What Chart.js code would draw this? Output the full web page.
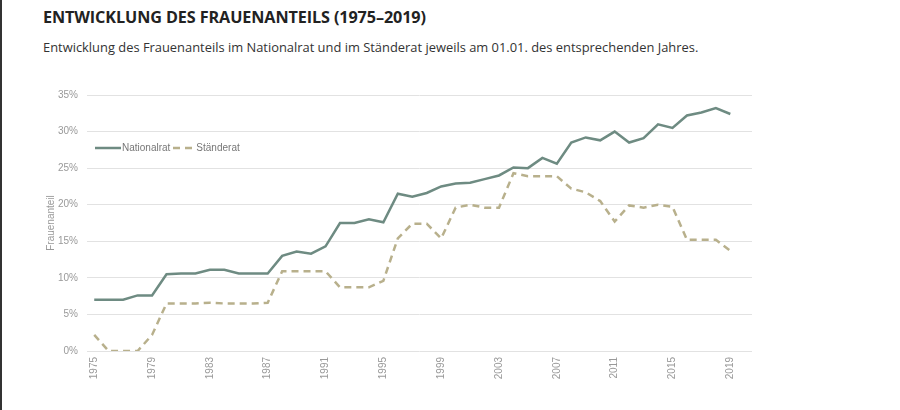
<!DOCTYPE html>
<html>
<head>
<meta charset="utf-8">
<script src="https://cdn.jsdelivr.net/npm/chart.js@4"></script>
<style>
  html, body { margin: 0; padding: 0; background: #fff; }
  body { width: 900px; height: 410px; position: relative; overflow: hidden; border-left: 2px solid #333; box-sizing: border-box; }
  h1 { position: absolute; left: 41px; top: 6px; margin: 0; font: 700 16.2px "Open Sans", sans-serif; color: #222; letter-spacing: -0.1px; }
  p.sub { position: absolute; left: 41px; top: 38px; margin: 0; font: 400 12.9px "Open Sans", sans-serif; color: #333; }
  #wrap { position: absolute; left: -2px; top: 80px; width: 900px; height: 330px; }
  #legend { position: absolute; left: 93px; top: 142px; font: 10px "Liberation Sans", Arial, sans-serif; color: #777; display: flex; align-items: center; }
  #legend svg { margin-right: 1px; }
</style>
</head>
<body>
<h1>ENTWICKLUNG DES FRAUENANTEILS (1975–2019)</h1>
<p class="sub">Entwicklung des Frauenanteils im Nationalrat und im Ständerat jeweils am 01.01. des entsprechenden Jahres.</p>
<div id="wrap"><canvas id="chart"></canvas></div>
<div id="legend">
  <svg width="26" height="4"><line x1="0" y1="2" x2="26" y2="2" stroke="#6e8b82" stroke-width="2.5"/></svg>
  <span>Nationalrat</span>
  <svg width="20" height="4" style="margin-left:3px"><line x1="0" y1="2" x2="20" y2="2" stroke="#b8b08c" stroke-width="2.5" stroke-dasharray="7,5"/></svg>
  <span style="margin-left:2px">Ständerat</span>
</div>
<script>
var years = [];
for (var y = 1975; y <= 2020; y++) years.push(String(y));

var nationalrat = [7.0, 7.0, 7.0, 7.6, 7.6, 10.5, 10.6, 10.6, 11.1, 11.1,
                   10.6, 10.6, 10.6, 13.0, 13.6, 13.3, 14.3, 17.5, 17.5, 18.0,
                   17.6, 21.5, 21.1, 21.6, 22.5, 22.9, 23.0, 23.5, 24.0, 25.1,
                   25.0, 26.4, 25.6, 28.5, 29.2, 28.8, 30.0, 28.5, 29.1, 31.0,
                   30.5, 32.2, 32.6, 33.2, 32.4, null];

var staenderat = [2.2, 0, 0, 0, 2.2, 6.5, 6.5, 6.5, 6.6, 6.5,
                  6.5, 6.5, 6.6, 10.9, 10.9, 10.9, 10.9, 8.7, 8.7, 8.7,
                  9.6, 15.4, 17.4, 17.4, 15.4, 19.6, 20.0, 19.6, 19.6, 24.3,
                  23.9, 23.9, 23.9, 22.2, 21.7, 20.5, 17.7, 19.9, 19.6, 20.0,
                  19.7, 15.2, 15.2, 15.2, 13.7, null];

var yTicks = [0, 5, 10, 15, 20, 25, 30, 35];

var ctx = document.getElementById('chart').getContext('2d');
var chart = new Chart(ctx, {
    type: 'line',
    data: {
        labels: years,
        datasets: [{
            label: 'Nationalrat',
            data: nationalrat,
            borderColor: '#6e8b82',
            borderWidth: 2.5,
            pointRadius: 0,
            tension: 0
        }, {
            label: 'Ständerat',
            data: staenderat,
            borderColor: '#b8b08c',
            borderWidth: 2.5,
            borderDash: [7, 5],
            pointRadius: 0,
            tension: 0
        }]
    },
    options: {
        responsive: true,
        maintainAspectRatio: false,
        animation: false,
        layout: { padding: { left: 43, right: 148, top: 15, bottom: 0 } },
        scales: {
            x: {
                offset: true,
                grid: { display: false, drawTicks: false },
                border: { display: false },
                afterFit: function (scale) { scale.height = 59; },
                ticks: {
                    autoSkip: false,
                    minRotation: 90,
                    maxRotation: 90,
                    padding: 6,
                    color: '#999',
                    font: { family: 'Liberation Sans', size: 10 },
                    callback: function (value, index) {
                        return index % 4 === 0 ? this.getLabelForValue(value) : '';
                    }
                }
            },
            y: {
                min: 0,
                max: 35,
                afterFit: function (scale) { scale.width = 44; },
                afterBuildTicks: function (scale) {
                    scale.ticks = yTicks.map(function (v) { return { value: v }; });
                },
                grid: { color: '#e2e2e2', lineWidth: 1, drawTicks: false },
                border: { display: false },
                title: {
                    display: true,
                    text: 'Frauenanteil',
                    color: '#999',
                    font: { family: 'Liberation Sans', size: 10 },
                    padding: 2
                },
                ticks: {
                    padding: 9,
                    color: '#999',
                    font: { family: 'Liberation Sans', size: 10 },
                    callback: function (value) { return value + '%'; }
                }
            }
        },
        plugins: {
            legend: { display: false },
            tooltip: { enabled: false }
        }
    }
});
</script>
</body>
</html>
